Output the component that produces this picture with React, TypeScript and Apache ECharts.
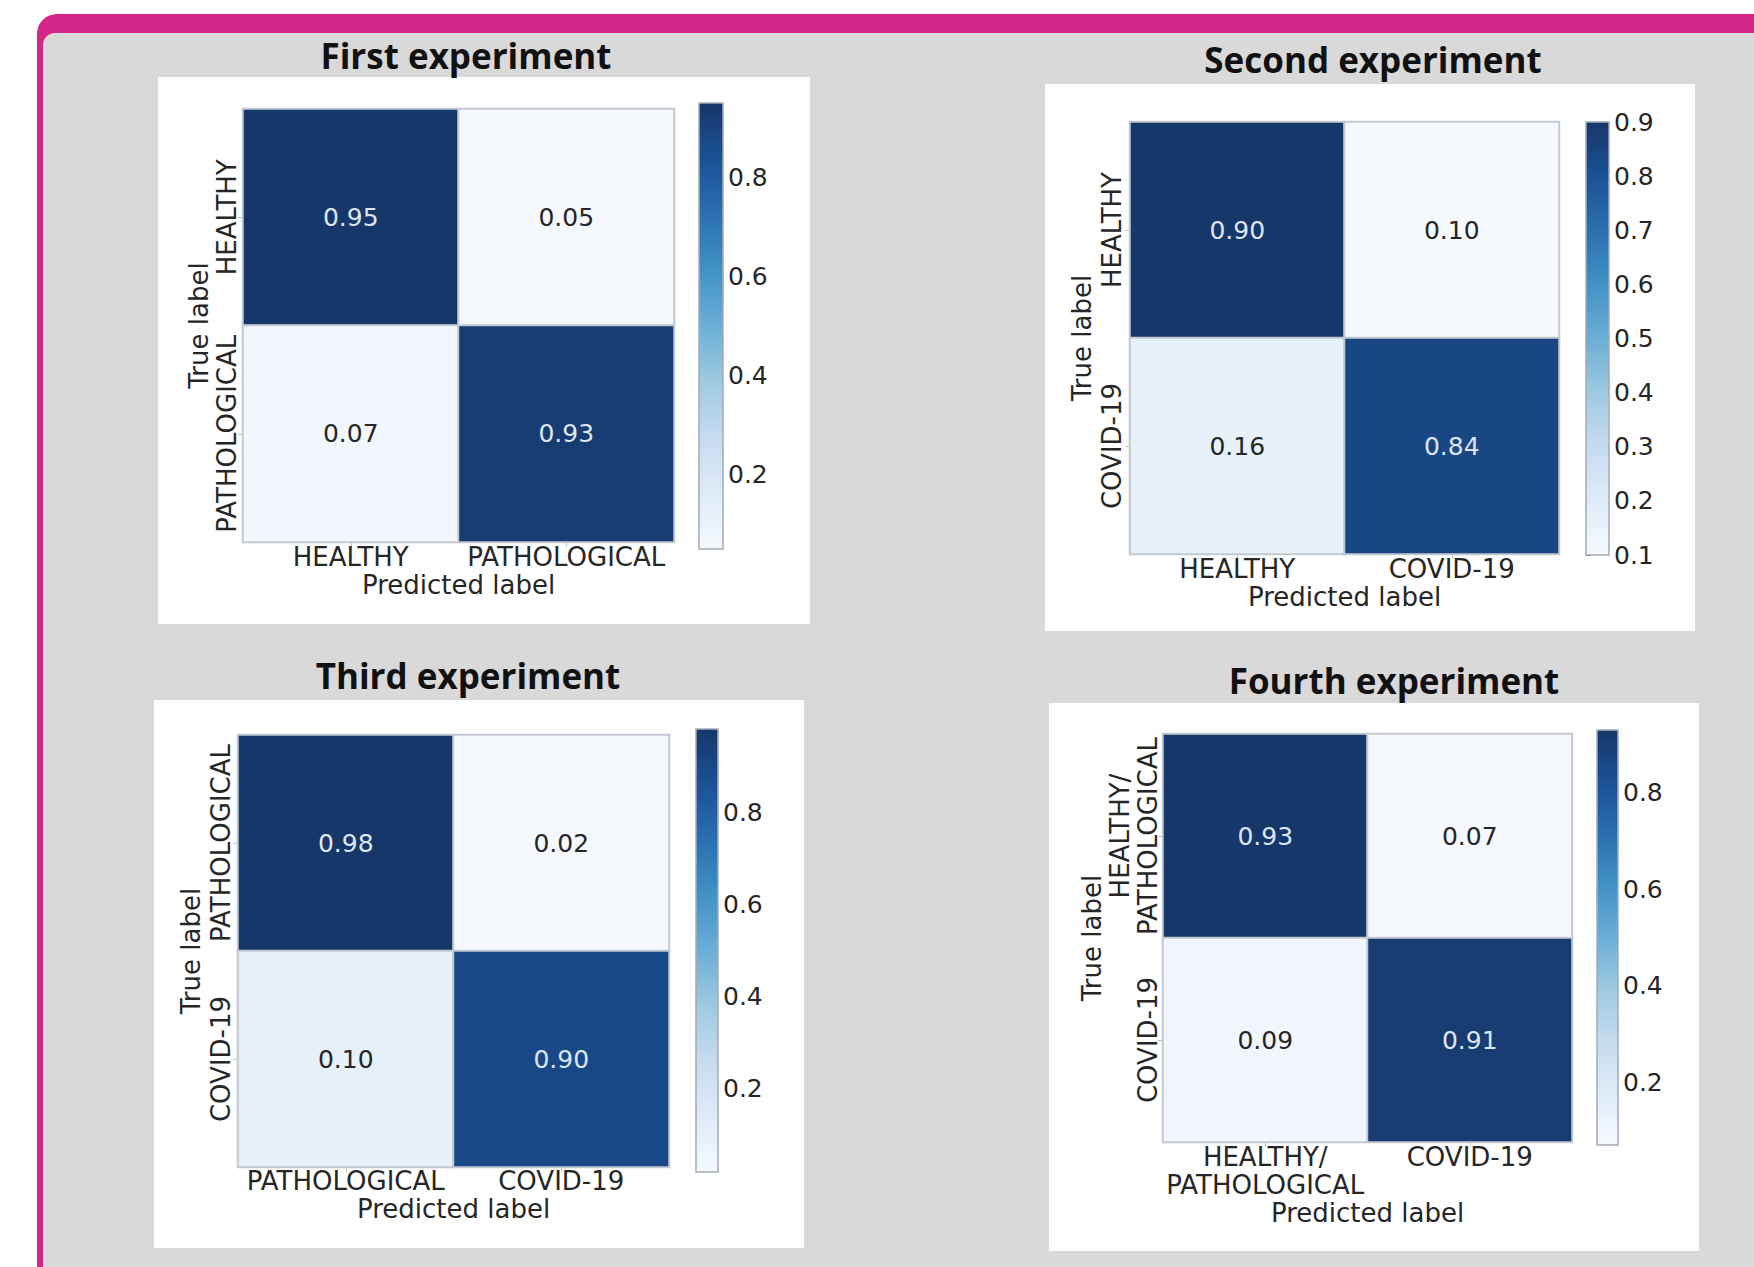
import React, { useEffect, useRef } from 'react';
import * as echarts from 'echarts';

// ---------- data ----------
const titles = ['First experiment', 'Second experiment', 'Third experiment', 'Fourth experiment'];
const predictedName = 'Predicted label';
const trueName = 'True label';

const cats1 = ['HEALTHY', 'PATHOLOGICAL'];
const cats2 = ['HEALTHY', 'COVID-19'];
const cats3 = ['PATHOLOGICAL', 'COVID-19'];
const cats4 = ['HEALTHY/\nPATHOLOGICAL', 'COVID-19'];

// rows = true label, columns = predicted label
const matrix1 = [[0.95, 0.05], [0.07, 0.93]];
const matrix2 = [[0.90, 0.10], [0.16, 0.84]];
const matrix3 = [[0.98, 0.02], [0.10, 0.90]];
const matrix4 = [[0.93, 0.07], [0.09, 0.91]];

const cbarTicks1 = [0.2, 0.4, 0.6, 0.8];
const cbarTicks2 = [0.1, 0.2, 0.3, 0.4, 0.5, 0.6, 0.7, 0.8, 0.9];
const cbarTicks3 = [0.2, 0.4, 0.6, 0.8];
const cbarTicks4 = [0.2, 0.4, 0.6, 0.8];

const panelsData = [
  { cats: cats1, matrix: matrix1, ticks: cbarTicks1 },
  { cats: cats2, matrix: matrix2, ticks: cbarTicks2 },
  { cats: cats3, matrix: matrix3, ticks: cbarTicks3 },
  { cats: cats4, matrix: matrix4, ticks: cbarTicks4 },
];

// ---------- layout / style ----------
const layouts = [
  { box: [158, 77, 652, 547], grid: [243, 109, 431, 433], cbar: [699, 103, 24, 446], title: [466, 55], xMargin: 1, xNameGap: 23, yMargin: 2, yNameGap: 28 },
  { box: [1045, 84, 650, 547], grid: [1130, 122, 429, 432], cbar: [1586, 122, 23, 433], title: [1373, 59], xMargin: 1, xNameGap: 24, yMargin: 4, yNameGap: 35 },
  { box: [154, 700, 650, 548], grid: [238, 735, 431, 432], cbar: [696, 729, 22, 443], title: [468, 675], xMargin: 0, xNameGap: 23, yMargin: 3, yNameGap: 34 },
  { box: [1049, 703, 650, 548], grid: [1163, 734, 409, 408], cbar: [1597, 730, 21, 415], title: [1394, 680], xMargin: 1, xNameGap: 53, yMargin: 1, yNameGap: 57 },
];

const FONT = 'DejaVu Sans';
const FS_CAT = 26;
const FS_NAME = 26;
const FS_CELL = 25;
const FS_CBAR = 25;
const TXT = '#262626';
const blues = ['#f5f9fe', '#deebf7', '#c6dbef', '#9ecae1', '#6baed6', '#4292c6', '#2a6fb0', '#1b5196', '#163769'];

function buildOption() {
  const grid: any[] = [];
  const xAxis: any[] = [];
  const yAxis: any[] = [];
  const series: any[] = [];
  const visualMap: any[] = [];
  const graphic: any[] = [
    { type: 'rect', z: 0, shape: { x: 37, y: 14, width: 1800, height: 1300, r: [20, 0, 0, 0] }, style: { fill: '#d4268a' } },
    { type: 'rect', z: 0, shape: { x: 43, y: 33, width: 1800, height: 1300, r: [12, 0, 0, 0] }, style: { fill: '#d9d9d9' } },
  ];

  panelsData.forEach((p, i) => {
    const L = layouts[i];
    const flat = p.matrix.flat();
    const vmin = Math.min(...flat);
    const vmax = Math.max(...flat);

    graphic.push({ type: 'rect', z: 0, shape: { x: L.box[0], y: L.box[1], width: L.box[2], height: L.box[3] }, style: { fill: '#ffffff' } });
    graphic.push({
      type: 'text', z: 5, x: L.title[0], y: L.title[1],
      style: { text: titles[i], fill: '#111', font: `bold 35px "Open Sans"`, align: 'center', verticalAlign: 'middle', textAlign: 'center', textVerticalAlign: 'middle' },
    });
    graphic.push({
      type: 'rect', z: 100, shape: { x: L.cbar[0], y: L.cbar[1], width: L.cbar[2], height: L.cbar[3] },
      style: { fill: 'none', stroke: '#a3abb6', lineWidth: 1.5 },
    });

    grid.push({ left: L.grid[0], top: L.grid[1], width: L.grid[2], height: L.grid[3], containLabel: false });
    grid.push({ left: L.cbar[0], top: L.cbar[1], width: L.cbar[2], height: L.cbar[3], containLabel: false });

    const gh = 2 * i;
    const gc = 2 * i + 1;

    xAxis.push({
      type: 'category', gridIndex: gh, data: p.cats, position: 'bottom',
      axisLine: { show: false },
      axisTick: { show: true, alignWithLabel: true, length: 5, lineStyle: { color: '#c4c4c4' } },
      axisLabel: { fontFamily: FONT, fontSize: FS_CAT, color: TXT, margin: L.xMargin, lineHeight: 28, interval: 0 },
      splitLine: { show: false },
      name: predictedName, nameLocation: 'middle', nameGap: L.xNameGap,
      nameTextStyle: { fontFamily: FONT, fontSize: FS_NAME, color: TXT },
    });
    xAxis.push({ type: 'value', gridIndex: gc, show: false, min: 0, max: 1 });

    yAxis.push({
      type: 'category', gridIndex: gh, data: p.cats, inverse: true,
      axisLine: { show: false },
      axisTick: { show: true, alignWithLabel: true, length: 5, lineStyle: { color: '#c4c4c4' } },
      axisLabel: { fontFamily: FONT, fontSize: FS_CAT, color: TXT, margin: L.yMargin, rotate: 90, lineHeight: 28, interval: 0 },
      splitLine: { show: false },
      name: trueName, nameLocation: 'middle', nameGap: L.yNameGap,
      nameTextStyle: { fontFamily: FONT, fontSize: FS_NAME, color: TXT },
    });
    yAxis.push({
      type: 'value', gridIndex: gc, min: vmin, max: vmax, position: 'right',
      axisLine: { show: false },
      splitLine: { show: false },
      axisTick: { show: true, length: 4, customValues: p.ticks, lineStyle: { color: '#444' } },
      axisLabel: { customValues: p.ticks, fontFamily: FONT, fontSize: FS_CBAR, color: TXT, margin: 5, formatter: (v: number) => v.toFixed(1) },
    });

    const data: any[] = [];
    p.matrix.forEach((row, r) => {
      row.forEach((v, c) => {
        const t = (v - vmin) / (vmax - vmin);
        data.push({ value: [c, r, v], label: { color: t > 0.5 ? '#dde5f2' : '#262626' } });
      });
    });
    series.push({
      type: 'heatmap', xAxisIndex: gh, yAxisIndex: gh, data,
      label: { show: true, fontFamily: FONT, fontSize: FS_CELL, formatter: (q: any) => q.value[2].toFixed(2) },
      itemStyle: { borderColor: '#c3c9d2', borderWidth: 2 },
      emphasis: { disabled: true },
    });

    visualMap.push({
      type: 'continuous', seriesIndex: i, dimension: 2, min: vmin, max: vmax,
      calculable: false, hoverLink: false, orient: 'vertical', padding: 0,
      left: L.cbar[0], top: L.cbar[1], itemWidth: L.cbar[2], itemHeight: L.cbar[3],
      inRange: { color: blues }, text: null, show: true,
    });
  });

  return { animation: false, backgroundColor: '#ffffff', grid, xAxis, yAxis, series, visualMap, graphic };
}

export default function App() {
  const ref = useRef<HTMLDivElement>(null);
  useEffect(() => {
    const chart = echarts.init(ref.current!, null, { renderer: 'svg' });
    chart.setOption(buildOption() as any);
    return () => chart.dispose();
  }, []);
  return <div ref={ref} style={{ position: 'fixed', left: 0, top: 0, width: 1754, height: 1267 }} />;
}
